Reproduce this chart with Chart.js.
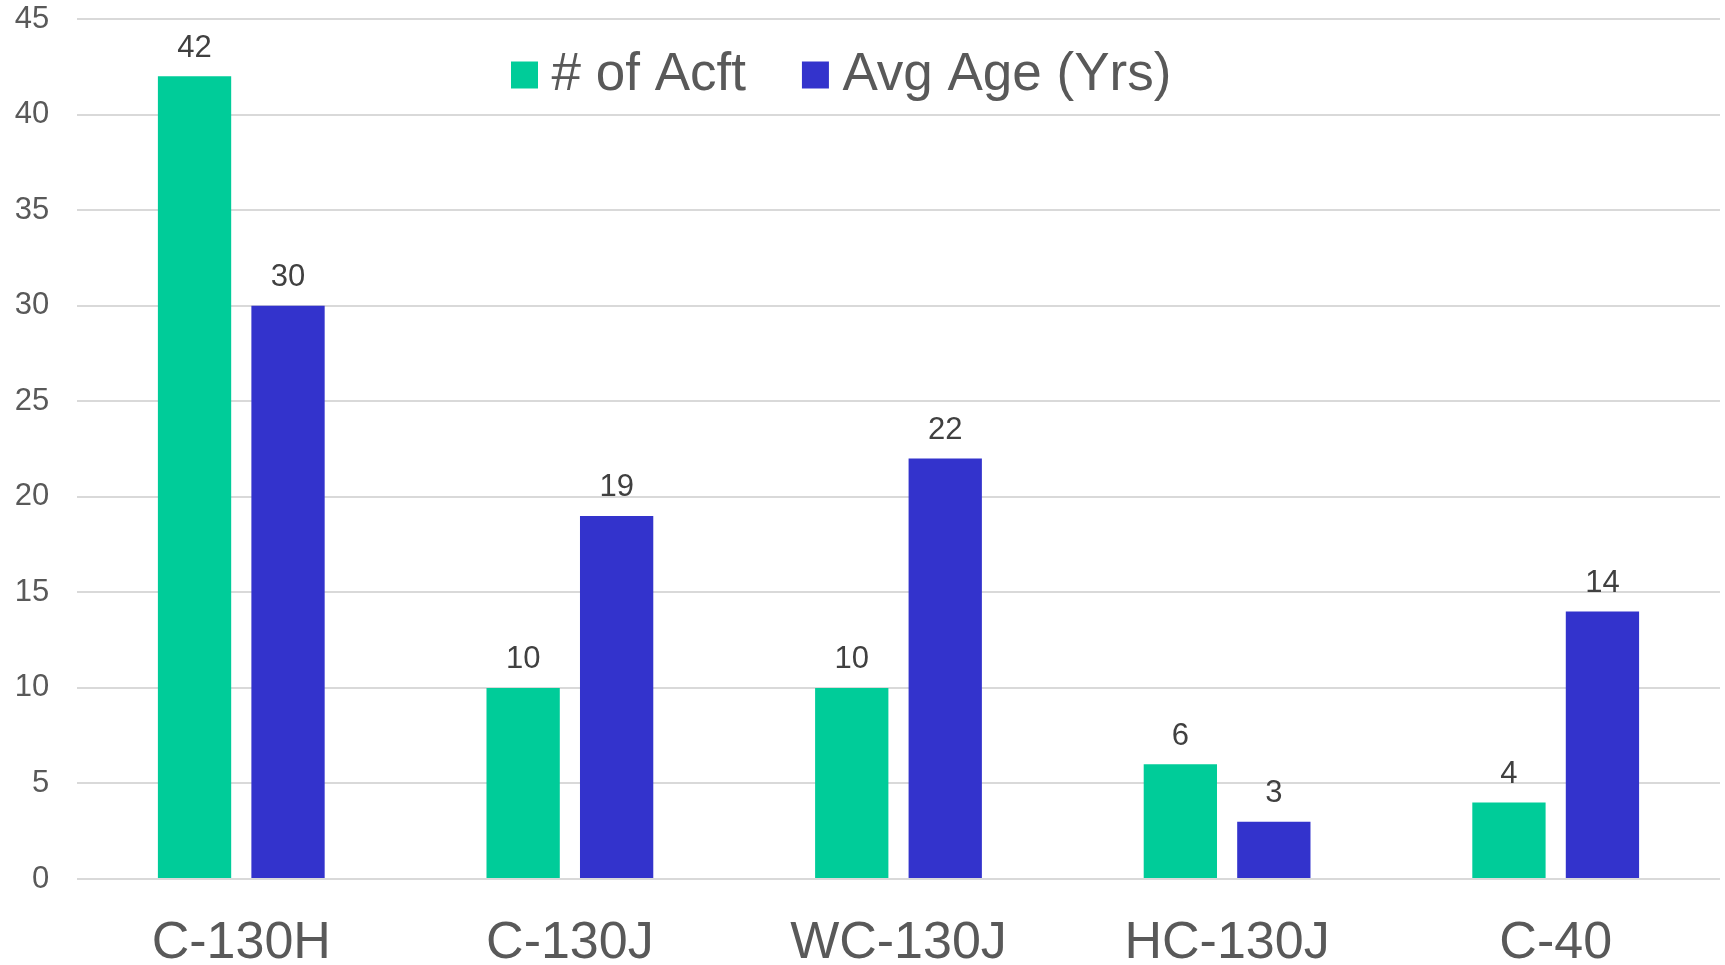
<!DOCTYPE html>
<html>
<head>
<meta charset="utf-8">
<script src="https://cdn.jsdelivr.net/npm/chart.js@4.4.1/dist/chart.umd.min.js"></script>
<style>
  html, body { margin: 0; padding: 0; background: #ffffff; }
  #wrap { width: 1725px; height: 965px; }
</style>
</head>
<body>
<div id="wrap"><canvas id="c" width="1725" height="965"></canvas></div>
<script>
const categories = ["C-130H", "C-130J", "WC-130J", "HC-130J", "C-40"];
const seriesNames = ["# of Acft", "Avg Age (Yrs)"];
const numAircraft = [42, 10, 10, 6, 4];
const avgAge = [30, 19, 22, 3, 14];
const yTicks = [0, 5, 10, 15, 20, 25, 30, 35, 40, 45];

const FONT = "'Liberation Sans', Arial, sans-serif";

const dataLabelPlugin = {
  id: 'dataLabels',
  afterDatasetsDraw(chart) {
    const ctx = chart.ctx;
    ctx.save();
    ctx.font = "31px " + FONT;
    ctx.fillStyle = "#404040";
    ctx.textAlign = "center";
    ctx.textBaseline = "alphabetic";
    chart.data.datasets.forEach((ds, i) => {
      const meta = chart.getDatasetMeta(i);
      meta.data.forEach((bar, j) => {
        ctx.fillText(String(ds.data[j]), bar.x, bar.y - 19.6);
      });
    });
    ctx.restore();
  }
};

function placeLegend(chart) {
  const lg = chart.legend;
  if (!lg) return;
  lg.left = 455;
  lg.right = chart.width;
  lg.top = -20.5;
  lg.bottom = 200;
}
const legendPlacePlugin = {
  id: 'legendPlace',
  afterLayout(chart) { placeLegend(chart); },
  beforeDraw(chart) { placeLegend(chart); }
};

new Chart(document.getElementById('c'), {
  type: 'bar',
  data: {
    labels: categories,
    datasets: [
      { label: seriesNames[0], data: numAircraft, backgroundColor: '#00CC99', borderWidth: 0,
        categoryPercentage: 0.569, barPercentage: 0.784 },
      { label: seriesNames[1], data: avgAge, backgroundColor: '#3333CC', borderWidth: 0,
        categoryPercentage: 0.569, barPercentage: 0.784 }
    ]
  },
  options: {
    responsive: false,
    animation: false,
    devicePixelRatio: 1,
    layout: { padding: { left: 14.8, right: 5, top: 19, bottom: -5 } },
    plugins: {
      tooltip: { enabled: false },
      legend: {
        position: 'top',
        align: 'start',
        maxHeight: 0.01,
        labels: {
          usePointStyle: true,
          pointStyle: 'rect',
          boxWidth: 1,
          boxHeight: 27,
          padding: 69,
          color: '#595959',
          font: { family: FONT, size: 53 }
        }
      }
    },
    scales: {
      x: {
        grid: { display: true, drawOnChartArea: false, drawTicks: true, tickLength: 39,
                color: 'rgba(0,0,0,0)', tickColor: 'rgba(0,0,0,0)' },
        border: { display: false },
        ticks: {
          padding: 0,
          color: '#595959',
          maxRotation: 0,
          font: { family: FONT, size: 52, lineHeight: 1 }
        }
      },
      y: {
        min: 0,
        max: 45,
        afterBuildTicks(scale) { scale.ticks = yTicks.map(v => ({ value: v })); },
        grid: { color: '#d9d9d9', lineWidth: 2, drawTicks: true, tickLength: 27.7,
                tickColor: 'rgba(0,0,0,0)' },
        border: { display: false },
        ticks: {
          padding: 0,
          color: '#595959',
          font: { family: FONT, size: 31 }
        }
      }
    }
  },
  plugins: [dataLabelPlugin, legendPlacePlugin]
});
</script>
</body>
</html>
